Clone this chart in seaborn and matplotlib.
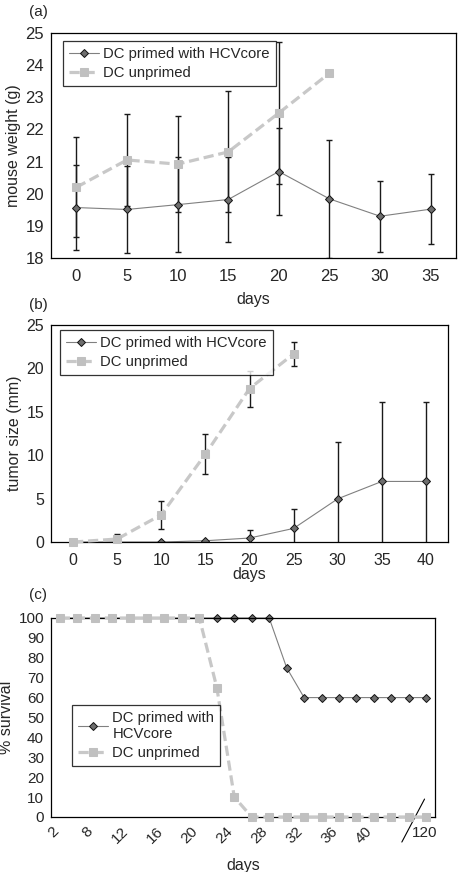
import matplotlib
matplotlib.use("Agg")
import matplotlib.pyplot as plt
import seaborn as sns
import numpy as np

# (a) mouse weight
weight_days = ['0', '5', '10', '15', '20', '25', '30', '35']
weight_primed = [19.57, 19.51, 19.66, 19.82, 20.69, 19.84, 19.30, 19.52]
weight_primed_err = [1.32, 1.34, 1.47, 1.33, 1.36, 1.83, 1.10, 1.08]
weight_unprimed = [20.20, 21.05, 20.92, 21.30, 22.51, 23.75]
weight_unprimed_err = [1.55, 1.42, 1.49, 1.88, 2.20, 0.0]

# (b) tumor size
tumor_days = ['0', '5', '10', '15', '20', '25', '30', '35', '40']
tumor_primed = [0.0, 0.0, 0.0, 0.15, 0.46, 1.57, 4.98, 6.98, 6.98]
tumor_primed_err = [0.0, 0.0, 0.0, 0.0, 0.95, 2.2, 6.6, 9.17, 9.17]
tumor_unprimed = [0.0, 0.35, 3.14, 10.12, 17.68, 21.67]
tumor_unprimed_err = [0.0, 0.6, 1.63, 2.3, 2.07, 1.35]

# (c) survival, 22 observation points
surv_primed = [100] * 13 + [75] + [60] * 8
surv_unprimed = [100] * 9 + [65, 10] + [0] * 11
surv_tick_labels = ['2', '8', '12', '16', '20', '24', '28', '32', '36', '40']

sns.set_style("white")
plt.rcParams['font.family'] = ['Liberation Sans', 'DejaVu Sans']

PRIMED = dict(color='#808080', linewidth=0.8, marker='D', markersize=4.4,
              markerfacecolor='#6e6e6e', markeredgecolor='#111111',
              markeredgewidth=0.7)
UNPRIMED = dict(color='#c8c8c8', linewidth=2.3, linestyle=(0, (3.2, 1.5)),
                marker='s', markersize=6.0, markerfacecolor='#c0c0c0',
                markeredgecolor='#c0c0c0')
ERR = dict(fmt='none', ecolor='#1a1a1a', elinewidth=1.0, capsize=2.3,
           capthick=1.0)

fig = plt.figure(figsize=(4.58, 8.72), dpi=100)
axa = fig.add_axes([0.1114, 0.7041, 0.8842, 0.2581])
axb = fig.add_axes([0.1114, 0.3784, 0.8668, 0.2489])
axc = fig.add_axes([0.1114, 0.0631, 0.8384, 0.2282])


def frame(ax):
    for s in ax.spines.values():
        s.set_visible(True)
        s.set_color('black')
        s.set_linewidth(0.9)


def category_axis(ax, labels, fs):
    n = len(labels)
    ax.set_xlim(-0.5, n - 0.5)
    ax.set_xticks(range(n))
    ax.set_xticklabels(labels, fontsize=fs)
    ax.set_xticks(np.arange(0.5, n - 0.5, 1), minor=True)
    ax.tick_params(axis='x', which='major', length=0, pad=8)
    ax.tick_params(axis='x', which='minor', length=3.5, direction='in', width=0.8)


def draw_pair(ax, x, y1, y2, clip=True):
    sns.lineplot(x=x, y=y1, ax=ax, zorder=2, clip_on=clip, **PRIMED)
    h1 = ax.lines[-1]
    sns.lineplot(x=x[:len(y2)], y=y2, ax=ax, zorder=3, clip_on=False, **UNPRIMED)
    h2 = ax.lines[-1]
    return [h1, h2]


def legend(ax, handles, anchor, fs, labels):
    leg = ax.legend(handles, labels, loc='upper left', bbox_to_anchor=anchor,
                    fontsize=fs, frameon=True, fancybox=False, borderaxespad=0,
                    handlelength=2.0, handletextpad=0.3, borderpad=0.4,
                    labelspacing=0.35)
    leg.get_frame().set_edgecolor('black')
    leg.get_frame().set_linewidth(0.9)
    return leg


# ---- (a)
xa = np.arange(len(weight_days))
axa.errorbar(xa, weight_primed, yerr=weight_primed_err, zorder=1.5, **ERR)
axa.errorbar(xa[:len(weight_unprimed)], weight_unprimed, yerr=weight_unprimed_err,
             zorder=1.5, **ERR)
ha = draw_pair(axa, xa, weight_primed, weight_unprimed)
category_axis(axa, weight_days, 12)
axa.set_ylim(18, 25)
axa.set_yticks(range(18, 26))
axa.tick_params(axis='y', labelsize=12, length=3, direction='out', width=0.8, pad=2)
axa.set_ylabel('mouse weight (g)', fontsize=11.5, labelpad=3)
axa.set_xlabel('days', fontsize=11.5, labelpad=6)
frame(axa)
legend(axa, ha, (0.03, 0.965), 10.7, ['DC primed with HCVcore', 'DC unprimed'])

# ---- (b)
xb = np.arange(len(tumor_days))
axb.errorbar(xb, tumor_primed, yerr=tumor_primed_err, zorder=1.5, **ERR)
axb.errorbar(xb[:len(tumor_unprimed)], tumor_unprimed, yerr=tumor_unprimed_err,
             zorder=1.5, **ERR)
hb = draw_pair(axb, xb, tumor_primed, tumor_unprimed)
category_axis(axb, tumor_days, 11.5)
axb.set_ylim(0, 25)
axb.set_yticks(range(0, 26, 5))
axb.tick_params(axis='y', labelsize=11.5, length=3, direction='out', width=0.8, pad=2)
axb.set_ylabel('tumor size (mm)', fontsize=11.5, labelpad=3)
axb.set_xlabel('days', fontsize=11.5, labelpad=-1)
frame(axb)
legend(axb, hb, (0.023, 0.977), 10.7, ['DC primed with HCVcore', 'DC unprimed'])

# ---- (c)
xc = np.arange(len(surv_primed)) + 0.5
hc = draw_pair(axc, xc, surv_primed, surv_unprimed, clip=False)
axc.set_xlim(0, len(surv_primed))
axc.set_ylim(0, 100)
axc.set_yticks(range(0, 101, 10))
axc.tick_params(axis='y', labelsize=11, length=3, direction='out', width=0.8, pad=2)
axc.set_xticks(range(0, 2 * len(surv_tick_labels), 2))
axc.set_xticklabels(surv_tick_labels, fontsize=11, rotation=45, ha='right',
                    rotation_mode='anchor')
axc.set_xticks(range(1, len(surv_primed)), minor=True)
axc.tick_params(axis='x', which='major', length=3, direction='inout', width=0.8, pad=4)
axc.tick_params(axis='x', which='minor', length=3, direction='inout', width=0.8)
axc.text(21.4, -4.5, '120', fontsize=11, ha='center', va='top')
axc.plot([20.1, 21.4], [-12.6, 9.0], color='black', linewidth=0.8, clip_on=False)
axc.set_ylabel('% survival', fontsize=11.5, labelpad=3)
axc.set_xlabel('days', fontsize=11.5, labelpad=8)
frame(axc)
legend(axc, hc, (0.055, 0.563), 10.7, ['DC primed with\nHCVcore', 'DC unprimed'])

fig.text(0.063, 0.986, '(a)', fontsize=11, va='center')
fig.text(0.063, 0.650, '(b)', fontsize=11, va='center')
fig.text(0.063, 0.318, '(c)', fontsize=11, va='center')

fig.savefig('out.png', dpi=100)
